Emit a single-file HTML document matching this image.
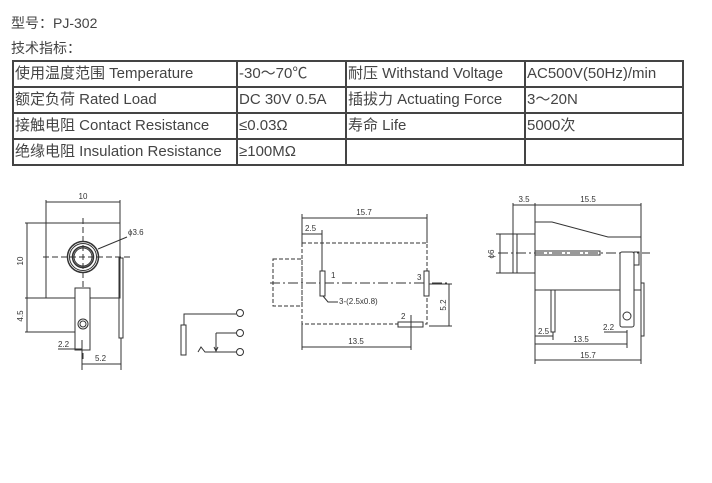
<!DOCTYPE html>
<html><head><meta charset="utf-8"><style>
body{margin:0;width:712px;height:483px;background:#fff;position:relative;overflow:hidden;font-family:"Liberation Sans","Noto Sans CJK SC",sans-serif;color:#444}
.t{position:absolute;font-size:14px;left:11px}
table{position:absolute;left:12px;top:60px;border-collapse:collapse;font-size:15px;color:#444}
td{border:2px solid #444;height:24px;padding:0 0 0 1px;line-height:24px;white-space:nowrap}
svg{position:absolute;left:0;top:0}
</style></head><body>
<div class="t" style="top:13px">型号：PJ-302</div>
<div class="t" style="top:38px">技术指标：</div>
<table>
<tr><td style="width:221px">使用温度范围 Temperature</td><td style="width:106px">-30～70℃</td><td style="width:176px">耐压 Withstand Voltage</td><td style="width:155px">AC500V(50Hz)/min</td></tr>
<tr><td>额定负荷 Rated Load</td><td>DC 30V 0.5A</td><td>插拔力 Actuating Force</td><td>3～20N</td></tr>
<tr><td>接触电阻 Contact Resistance</td><td>≤0.03Ω</td><td>寿命 Life</td><td>5000次</td></tr>
<tr><td>绝缘电阻 Insulation Resistance</td><td>≥100MΩ</td><td></td><td></td></tr>
</table>
<svg width="712" height="483" font-family="Liberation Sans" font-size="8" fill="none" stroke="#333" stroke-width="1">
<!-- left drawing -->
<rect x="46" y="223" width="74" height="75"/>
<circle cx="83" cy="257" r="15.5" stroke-width="1.5"/><circle cx="83" cy="257" r="13.5"/>
<circle cx="83" cy="257" r="10.5" stroke-width="1.5"/><circle cx="83" cy="257" r="9"/>
<path d="M83 218V360M43 257H130" stroke-dasharray="6,3"/>
<path d="M46 200V223M120 200V223M46 202H120M25 223H46M25 298H46M27 223V298M25 332H80M27 298V332"/>
<text x="83" y="199" fill="#333" stroke="none" text-anchor="middle">10</text>
<text transform="translate(23 261) rotate(-90)" fill="#333" stroke="none" text-anchor="middle">10</text>
<text transform="translate(23 316) rotate(-90)" fill="#333" stroke="none" text-anchor="middle">4.5</text>
<path d="M98 249L127 237"/><text x="128" y="235" fill="#333" stroke="none">ϕ3.6</text>
<rect x="75" y="288" width="15" height="62" fill="#fff"/>
<circle cx="83" cy="324" r="5"/><circle cx="83" cy="324" r="3"/>
<rect x="119" y="258" width="4" height="80"/>
<path d="M121 338V345M82 340V370M121 345V370M82 364H121M58 349H82"/>
<text x="58" y="347" fill="#333" stroke="none">2.2</text>
<text x="95" y="361" fill="#333" stroke="none">5.2</text>
<!-- schematic -->
<rect x="181" y="325" width="5" height="30"/>
<path d="M184 325V314H236M216 333H236M216 333V350M198 352L201 347L205 352H236"/>
<path d="M214 347L216 351L218 347" />
<circle cx="240" cy="313" r="3.5"/><circle cx="240" cy="333" r="3.5"/><circle cx="240" cy="352" r="3.5"/>
<!-- middle drawing -->
<g stroke-dasharray="4,2"><rect x="302" y="243" width="125" height="81"/><rect x="273" y="259" width="29" height="47"/></g>
<path d="M270 283H450" stroke-dasharray="10,3,2,3"/>
<rect x="320" y="271" width="5" height="25" fill="#fff"/><rect x="424" y="271" width="5" height="25" fill="#fff"/><rect x="398" y="322" width="25" height="5" fill="#fff"/>
<path d="M302 214V243M427 214V243M302 218H427M302 234H322M322 230V271M411 315V350M302 324V350M302 347H411M429 326H452M449 284V326M429 284H452M323 296L328 302H338"/>
<text x="364" y="215" fill="#333" stroke="none" text-anchor="middle">15.7</text>
<text x="305" y="231" fill="#333" stroke="none">2.5</text>
<text x="331" y="278" fill="#333" stroke="none">1</text>
<text x="417" y="280" fill="#333" stroke="none">3</text>
<text x="401" y="319" fill="#333" stroke="none">2</text>
<text x="339" y="304" fill="#333" stroke="none">3-(2.5x0.8)</text>
<text transform="translate(446 305) rotate(-90)" fill="#333" stroke="none" text-anchor="middle">5.2</text>
<text x="356" y="344" fill="#333" stroke="none" text-anchor="middle">13.5</text>
<!-- right drawing -->
<path d="M535 222H552L608 237H641V290H535Z"/>
<path d="M513 234H535V273H513Z M517 234V273"/>
<path d="M498 253H650" stroke-dasharray="10,3,2,3"/>
<path d="M535 251H600V255H535"/>
<rect x="620" y="252" width="14" height="75" rx="2" fill="#fff"/>
<circle cx="627" cy="316" r="4"/>
<rect x="634" y="252" width="5" height="13"/>
<rect x="641" y="283" width="3" height="53"/>
<rect x="551" y="290" width="4" height="42"/>
<path d="M513 203V234M535 203V222M641 203V237M513 205H641M496 234H513M496 273H513M500 234V273M535 290V364M553 332V340M535 336H553M627 330V348M535 344H627M641 336V364M535 360H641M604 332H627"/>
<text x="524" y="202" fill="#333" stroke="none" text-anchor="middle">3.5</text>
<text x="588" y="202" fill="#333" stroke="none" text-anchor="middle">15.5</text>
<text transform="translate(494 254) rotate(-90)" fill="#333" stroke="none" text-anchor="middle">ϕ6</text>
<text x="538" y="334" fill="#333" stroke="none">2.5</text>
<text x="603" y="330" fill="#333" stroke="none">2.2</text>
<text x="581" y="342" fill="#333" stroke="none" text-anchor="middle">13.5</text>
<text x="588" y="358" fill="#333" stroke="none" text-anchor="middle">15.7</text>
</svg>
</body></html>
